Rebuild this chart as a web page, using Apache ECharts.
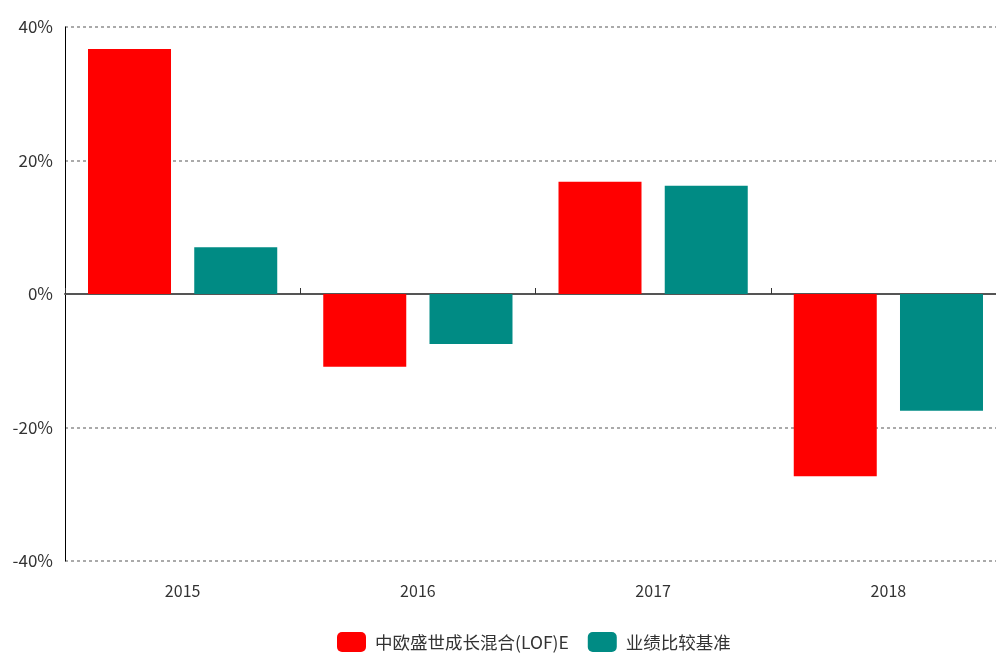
<!DOCTYPE html>
<html>
<head>
<meta charset="utf-8">
<script src="https://cdn.jsdelivr.net/npm/echarts@6/dist/echarts.min.js"></script>
<style>
    html, body { margin: 0; padding: 0; background: #fff; }
    #chart { width: 996px; height: 656px; }
</style>
</head>
<body>
<div id="chart"></div>
<script>
    // 年份
    var years = ['2015', '2016', '2017', '2018'];
    // 基金收益 (%)
    var fundValues = [36.7, -10.9, 16.8, -27.3];
    // 业绩比较基准 (%)
    var benchValues = [7.0, -7.5, 16.2, -17.5];
    var seriesNames = ['中欧盛世成长混合(LOF)E', '业绩比较基准'];

    var font = "'Noto Sans CJK SC', sans-serif";

    var chart = echarts.init(document.getElementById('chart'));
    var option = {
        animation: false,
        textStyle: {fontFamily: font},
        // 右侧被截掉一点，所以宽度超出画布
        grid: {left: 65, width: 941, top: 27, bottom: 95, outerBoundsMode: 'none'},
        legend: {
            left: 337,
            top: 632,
            padding: 0,
            itemWidth: 29,
            itemHeight: 20,
            itemGap: 19,
            icon: 'roundRect',
            textStyle: {fontSize: 17.5, color: '#333', padding: [0, 0, 0, 4]},
            data: seriesNames
        },
        xAxis: [
            {
                // 底部的年份标签
                type: 'category',
                data: years,
                position: 'bottom',
                axisLine: {show: false, onZero: false},
                axisTick: {show: false},
                axisLabel: {fontSize: 16, color: '#333', margin: 22}
            },
            {
                // 0% 处的轴线
                type: 'category',
                data: years,
                position: 'bottom',
                axisLine: {show: true, onZero: true, lineStyle: {color: '#555', width: 2}},
                axisTick: {show: true, inside: true, length: 6, lineStyle: {color: '#333'}},
                axisLabel: {show: false}
            }
        ],
        yAxis: {
            type: 'value',
            min: -40,
            max: 40,
            interval: 20,
            axisLine: {show: true, lineStyle: {color: '#000', width: 1}},
            axisTick: {show: false},
            axisLabel: {fontSize: 17, color: '#333', margin: 12, formatter: '{value}%'},
            splitLine: {show: true, lineStyle: {color: '#aaa', type: [3, 3], width: 2}}
        },
        series: [
            {
                name: seriesNames[0],
                type: 'bar',
                data: fundValues,
                barWidth: 83,
                barGap: '28%',
                itemStyle: {color: '#ff0000'}
            },
            {
                name: seriesNames[1],
                type: 'bar',
                data: benchValues,
                barWidth: 83,
                itemStyle: {color: '#008b84'}
            }
        ]
    };
    chart.setOption(option);
</script>
</body>
</html>
